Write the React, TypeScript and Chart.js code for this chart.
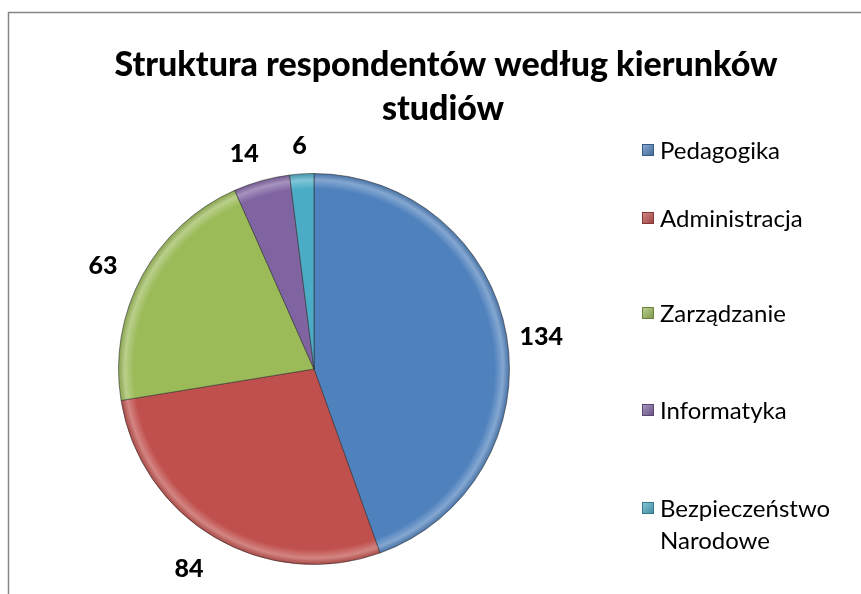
import { useEffect, useRef } from "react";
import { Chart, registerables } from "chart.js";

Chart.register(...registerables);

const categories = ["Pedagogika", "Administracja", "Zarządzanie", "Informatyka", "Bezpieczeństwo Narodowe"];
const legendLines = [["Pedagogika"], ["Administracja"], ["Zarządzanie"], ["Informatyka"], ["Bezpieczeństwo", "Narodowe"]];
const values = [134, 84, 63, 14, 6];
const colors = ["#4F81BD", "#C0504D", "#9BBB59", "#8064A2", "#4BACC6"];
const titleLines = ["Struktura respondentów według kierunków", "studiów"];

const FONT = "Lato, 'Open Sans', sans-serif";

function shade(hex: string, f: number) {
  const n = parseInt(hex.slice(1), 16);
  let r = (n >> 16) & 255, g = (n >> 8) & 255, b = n & 255;
  if (f >= 0) {
    r = r + (255 - r) * f; g = g + (255 - g) * f; b = b + (255 - b) * f;
  } else {
    r = r * (1 + f); g = g * (1 + f); b = b * (1 + f);
  }
  return `rgb(${Math.round(r)},${Math.round(g)},${Math.round(b)})`;
}

const decorPlugin = {
  id: "decor",
  beforeDraw(chart: any) {
    const ctx = chart.ctx;
    ctx.save();
    ctx.fillStyle = "#ffffff";
    ctx.fillRect(0, 0, chart.width, chart.height);
    ctx.strokeStyle = "#868686";
    ctx.lineWidth = 1.5;
    ctx.strokeRect(8.5, 12.5, 1000, 1000);
    // title
    ctx.fillStyle = "#000";
    ctx.textAlign = "center";
    ctx.textBaseline = "alphabetic";
    ctx.font = `900 34px ${FONT}`;
    ctx.fillText(titleLines[0], 446, 76);
    ctx.fillText(titleLines[1], 443, 120);
    ctx.restore();
  },
  afterDraw(chart: any) {
    const ctx = chart.ctx;
    ctx.save();
    // legend
    const legendY = [150, 218, 313, 410, 508];
    ctx.font = `24px ${FONT}`;
    ctx.textBaseline = "middle";
    ctx.textAlign = "left";
    legendLines.forEach((lines, i) => {
      const y = legendY[i];
      const g = ctx.createLinearGradient(642, y - 6, 654, y + 6);
      g.addColorStop(0, shade(colors[i], 0.35));
      g.addColorStop(1, shade(colors[i], -0.2));
      ctx.fillStyle = g;
      ctx.fillRect(642, y - 6, 12, 12);
      ctx.strokeStyle = shade(colors[i], -0.3);
      ctx.lineWidth = 1;
      ctx.strokeRect(642.5, y - 5.5, 11, 11);
      ctx.fillStyle = "#000";
      lines.forEach((t, k) => ctx.fillText(t, 660, y + 1 + k * 32));
    });
    // data labels
    const meta = chart.getDatasetMeta(0);
    ctx.font = `900 25px ${FONT}`;
    ctx.textAlign = "center";
    ctx.textBaseline = "middle";
    ctx.fillStyle = "#000";
    meta.data.forEach((arc: any, i: number) => {
      const p = arc.getProps(["x", "y", "startAngle", "endAngle", "outerRadius"], true);
      const mid = (p.startAngle + p.endAngle) / 2;
      const r = p.outerRadius * 1.18;
      const c = Math.cos(mid), s = Math.sin(mid);
      const dx = c < -0.2 ? -8 : 0;
      const dy = 7 * (1 - Math.max(0, s));
      ctx.fillText(String(values[i]), p.x + c * r + dx, p.y + s * r + dy);
    });
    ctx.restore();
  },
};

export default function App() {
  const ref = useRef<HTMLCanvasElement | null>(null);
  useEffect(() => {
    if (!ref.current) return;
    const chart = new Chart(ref.current, {
      type: "pie",
      data: {
        labels: categories,
        datasets: [
          {
            data: values,
            backgroundColor: (c: any) => {
              const ch = c.chart;
              const area = ch.chartArea;
              const base = colors[c.dataIndex % colors.length];
              if (!area) return base;
              const cx = (area.left + area.right) / 2;
              const cy = (area.top + area.bottom) / 2;
              const R = Math.min(area.right - area.left, area.bottom - area.top) / 2;
              const g = ch.ctx.createRadialGradient(cx, cy, 0, cx, cy, R);
              g.addColorStop(0, base);
              g.addColorStop(0.92, base);
              g.addColorStop(0.965, shade(base, 0.3));
              g.addColorStop(1, shade(base, -0.15));
              return g;
            },
            borderColor: "rgba(40,40,40,0.55)",
            borderWidth: 1,
          },
        ],
      },
      options: {
        animation: false,
        responsive: false,
        layout: { padding: { left: 118, right: 351, top: 173, bottom: 29 } },
        plugins: {
          legend: { display: false },
          title: { display: false },
          tooltip: { enabled: false },
        },
      },
      plugins: [decorPlugin],
    });
    return () => chart.destroy();
  }, []);
  return (
    <div style={{ position: "absolute", left: 0, top: 0, width: 861, height: 594 }}>
      <canvas ref={ref} width={861} height={594} style={{ display: "block" }} />
    </div>
  );
}
